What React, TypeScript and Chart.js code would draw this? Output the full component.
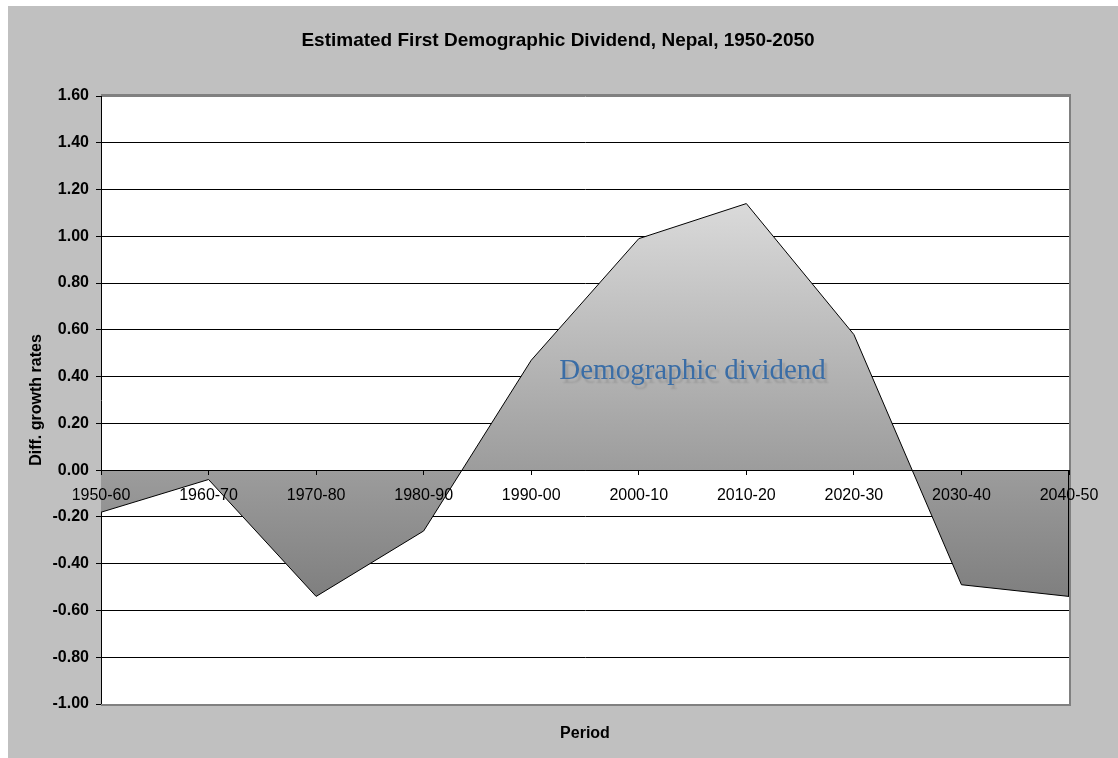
import { useEffect, useRef } from 'react';
import { Chart, registerables } from 'chart.js';

Chart.register(...registerables);

// Chart text
const chartTitle = 'Estimated First Demographic Dividend, Nepal, 1950-2050';
const xAxisTitle = 'Period';
const yAxisTitle = 'Diff. growth rates';
const annotationText = 'Demographic dividend';

// Decades and the difference between working-age and total population growth rates
const periods = [
  '1950-60', '1960-70', '1970-80', '1980-90', '1990-00',
  '2000-10', '2010-20', '2020-30', '2030-40', '2040-50',
];
const growthDiff = [-0.18, -0.04, -0.54, -0.26, 0.47, 0.99, 1.14, 0.58, -0.49, -0.54];

// Value axis range
const yMin = -1.0;
const yMax = 1.6;
const yStep = 0.2;

// Where the "Demographic dividend" label sits, in data units (category index, value)
const annotationIndex = 5.5;
const annotationValue = 0.39;

const SANS = '"Liberation Sans", Arial, Helvetica, sans-serif';
const SERIF = '"Liberation Serif", "Times New Roman", serif';

const framePlugin = {
  id: 'plotFrame',
  beforeDraw(chart: any) {
    const { ctx, chartArea: a } = chart;
    ctx.save();
    ctx.fillStyle = '#ffffff';
    ctx.fillRect(a.left, a.top, a.right - a.left, a.bottom - a.top);
    ctx.restore();
  },
  beforeDatasetsDraw(chart: any) {
    const { ctx, chartArea: a } = chart;
    ctx.save();
    ctx.strokeStyle = '#808080';
    ctx.lineWidth = 2;
    ctx.beginPath();
    ctx.moveTo(a.left, a.top - 1);
    ctx.lineTo(a.right + 1, a.top - 1);
    ctx.lineTo(a.right + 1, a.bottom + 1);
    ctx.lineTo(a.left, a.bottom + 1);
    ctx.stroke();
    ctx.restore();
  },
  afterDatasetsDraw(chart: any) {
    const { ctx } = chart;
    const xs = chart.scales.x;
    const ys = chart.scales.y;
    const last = growthDiff.length - 1;
    const px = Math.round(xs.getPixelForValue(last)) - 0.5;
    ctx.save();
    // outline the closing edge of the area at the last period
    ctx.strokeStyle = '#000000';
    ctx.lineWidth = 1;
    ctx.beginPath();
    ctx.moveTo(px, ys.getPixelForValue(0));
    ctx.lineTo(px, ys.getPixelForValue(growthDiff[last]));
    ctx.stroke();

    // label inside the positive lobe
    const ax = xs.left + (xs.right - xs.left) * (annotationIndex / (periods.length - 1));
    const ay = ys.getPixelForValue(annotationValue);
    ctx.font = `29px ${SERIF}`;
    ctx.textAlign = 'center';
    ctx.textBaseline = 'alphabetic';
    ctx.shadowColor = 'rgba(0,0,0,0.12)';
    ctx.shadowOffsetX = 3;
    ctx.shadowOffsetY = 4;
    ctx.shadowBlur = 2;
    ctx.fillStyle = '#3a6da6';
    ctx.fillText(annotationText, ax, ay);
    ctx.restore();
  },
  afterDraw(chart: any) {
    const { ctx, chartArea: a } = chart;
    ctx.save();
    ctx.fillStyle = '#000000';
    ctx.textAlign = 'center';
    ctx.textBaseline = 'alphabetic';
    ctx.font = `bold 19px ${SANS}`;
    ctx.fillText(chartTitle, 550, 40);
    ctx.font = `bold 16px ${SANS}`;
    ctx.fillText(xAxisTitle, (a.left + a.right) / 2, a.bottom + 34);
    ctx.restore();
  },
};

export default function App() {
  const canvasRef = useRef<HTMLCanvasElement | null>(null);

  useEffect(() => {
    const canvas = canvasRef.current;
    if (!canvas) return;

    const chart = new Chart(canvas, {
      type: 'line',
      data: {
        labels: periods,
        datasets: [
          {
            label: yAxisTitle,
            data: growthDiff,
            borderColor: '#000000',
            borderWidth: 1,
            pointRadius: 0,
            tension: 0,
            fill: 'origin',
            backgroundColor: (context: any) => {
              const { chart: c } = context;
              const ys = c.scales?.y;
              if (!c.chartArea || !ys) return '#b0b0b0';
              const top = ys.getPixelForValue(Math.max(...growthDiff));
              const bottom = ys.getPixelForValue(Math.min(...growthDiff));
              const g = c.ctx.createLinearGradient(0, top, 0, bottom);
              g.addColorStop(0, '#dadada');
              g.addColorStop(1, '#7f7f7f');
              return g;
            },
          },
        ],
      },
      options: {
        responsive: false,
        animation: false,
        devicePixelRatio: 1,
        layout: { padding: { left: 0, top: 90, right: 49, bottom: 54 } },
        plugins: {
          legend: { display: false },
          tooltip: { enabled: false },
          title: { display: false },
        },
        scales: {
          x: {
            type: 'category',
            position: { y: 0 },
            offset: false,
            grid: {
              drawOnChartArea: false,
              drawTicks: true,
              tickLength: 4,
              color: '#000000',
              z: 1,
            },
            border: { display: true, color: '#000000', width: 1, z: 1 },
            ticks: {
              color: '#000000',
              font: { family: SANS, size: 16 },
              padding: 12,
              maxRotation: 0,
              autoSkip: false,
              z: 1,
            },
          },
          y: {
            min: yMin,
            max: yMax,
            afterFit(scale: any) {
              scale.width = 93;
            },
            grid: {
              color: (ctx: any) => {
                const v = ctx.tick ? ctx.tick.value : 0;
                return v >= yMax - 1e-6 || v <= yMin + 1e-6 ? '#808080' : '#000000';
              },
              tickColor: '#000000',
              tickLength: 5,
              lineWidth: 1,
            },
            border: { display: true, color: '#000000', width: 1 },
            ticks: {
              stepSize: yStep,
              color: '#000000',
              padding: 7,
              font: { family: SANS, size: 16, weight: 'bold' },
              callback: (v: any) => Number(v).toFixed(2),
            },
            title: {
              display: true,
              text: yAxisTitle,
              color: '#000000',
              font: { family: SANS, size: 16, weight: 'bold' },
              padding: { top: 19, bottom: 0 },
            },
          },
        },
      },
      plugins: [framePlugin],
    });

    return () => chart.destroy();
  }, []);

  return (
    <div
      style={{
        position: 'absolute',
        left: 8,
        top: 6,
        width: 1110,
        height: 752,
        background: '#c0c0c0',
      }}
    >
      <canvas ref={canvasRef} width={1110} height={752} style={{ display: 'block' }} />
    </div>
  );
}
